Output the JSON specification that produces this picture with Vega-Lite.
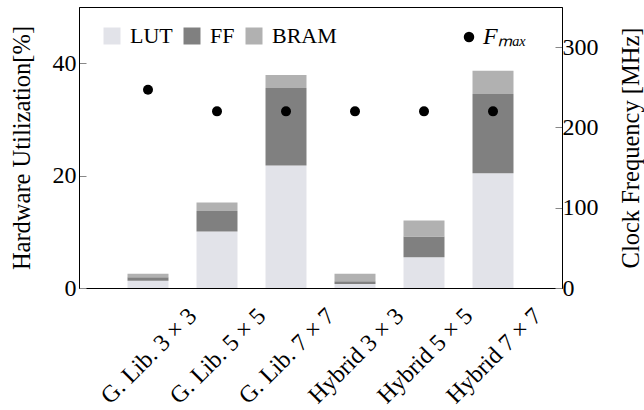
{
  "$schema": "https://vega.github.io/schema/vega-lite/v6.json",
  "width": 483,
  "height": 281,
  "autosize": "none",
  "padding": {"left": 79, "top": 7, "right": 82, "bottom": 122},
  "background": "white",
  "config": {
    "font": "Liberation Serif",
    "view": {"stroke": "#000", "strokeWidth": 1},
    "axis": {
      "labelFont": "Liberation Serif",
      "titleFont": "Liberation Serif",
      "labelFontSize": 24,
      "titleFontSize": 24.5,
      "titleFontWeight": "normal",
      "labelColor": "#000",
      "titleColor": "#000",
      "grid": false,
      "domainColor": "#000",
      "tickColor": "#888"
    },
    "legend": {
      "labelFont": "Liberation Serif",
      "labelFontSize": 22,
      "labelColor": "#000"
    }
  },
  "datasets": {
    "util": [
      {"config": "G. Lib. 3 × 3", "resource": "LUT", "k": 1, "value": 1.3},
      {"config": "G. Lib. 3 × 3", "resource": "FF", "k": 2, "value": 0.6},
      {"config": "G. Lib. 3 × 3", "resource": "BRAM", "k": 3, "value": 0.65},
      {"config": "G. Lib. 5 × 5", "resource": "LUT", "k": 1, "value": 10.05},
      {"config": "G. Lib. 5 × 5", "resource": "FF", "k": 2, "value": 3.65},
      {"config": "G. Lib. 5 × 5", "resource": "BRAM", "k": 3, "value": 1.5},
      {"config": "G. Lib. 7 × 7", "resource": "LUT", "k": 1, "value": 21.8},
      {"config": "G. Lib. 7 × 7", "resource": "FF", "k": 2, "value": 13.8},
      {"config": "G. Lib. 7 × 7", "resource": "BRAM", "k": 3, "value": 2.3},
      {"config": "Hybrid 3 × 3", "resource": "LUT", "k": 1, "value": 0.7},
      {"config": "Hybrid 3 × 3", "resource": "FF", "k": 2, "value": 0.5},
      {"config": "Hybrid 3 × 3", "resource": "BRAM", "k": 3, "value": 1.35},
      {"config": "Hybrid 5 × 5", "resource": "LUT", "k": 1, "value": 5.45},
      {"config": "Hybrid 5 × 5", "resource": "FF", "k": 2, "value": 3.7},
      {"config": "Hybrid 5 × 5", "resource": "BRAM", "k": 3, "value": 2.85},
      {"config": "Hybrid 7 × 7", "resource": "LUT", "k": 1, "value": 20.4},
      {"config": "Hybrid 7 × 7", "resource": "FF", "k": 2, "value": 14.1},
      {"config": "Hybrid 7 × 7", "resource": "BRAM", "k": 3, "value": 4.15}
    ],
    "freq": [
      {"config": "G. Lib. 3 × 3", "fmax": 247},
      {"config": "G. Lib. 5 × 5", "fmax": 220},
      {"config": "G. Lib. 7 × 7", "fmax": 220},
      {"config": "Hybrid 3 × 3", "fmax": 220},
      {"config": "Hybrid 5 × 5", "fmax": 220},
      {"config": "Hybrid 7 × 7", "fmax": 220}
    ]
  },
  "layer": [
    {
      "data": {"name": "util"},
      "mark": {"type": "bar"},
      "encoding": {
        "x": {
          "field": "config",
          "type": "nominal",
          "sort": null,
          "scale": {"paddingInner": 0.406, "paddingOuter": 0.703},
          "axis": {
            "title": null,
            "ticks": false,
            "labelAngle": -45,
            "labelAlign": "right",
            "labelBaseline": "alphabetic",
            "labelOffset": 50,
            "labelPadding": 29,
            "labelOverlap": false,
            "labelBound": false,
            "labelLimit": 400
          }
        },
        "y": {
          "field": "value",
          "type": "quantitative",
          "stack": "zero",
          "scale": {"domain": [0, 50], "nice": false},
          "axis": {
            "title": "Hardware Utilization[%]",
            "values": [0, 20, 40],
            "tickSize": -7,
            "labelPadding": 10,
            "titlePadding": 18
          }
        },
        "color": {
          "field": "resource",
          "type": "nominal",
          "scale": {"domain": ["LUT", "FF", "BRAM"], "range": ["#e2e3e9", "#808080", "#b1b1b1"]},
          "legend": {
            "title": null,
            "orient": "none",
            "direction": "horizontal",
            "legendX": 22,
            "legendY": 18,
            "symbolType": "square",
            "symbolSize": 289,
            "symbolStrokeWidth": 0,
            "labelOffset": 7,
            "columnPadding": 8
          }
        },
        "order": {"field": "k", "type": "quantitative"}
      }
    },
    {
      "data": {"name": "freq"},
      "mark": {"type": "point", "filled": true, "color": "#000", "size": 100, "opacity": 1},
      "encoding": {
        "x": {"field": "config", "type": "nominal", "sort": null},
        "y": {
          "field": "fmax",
          "type": "quantitative",
          "scale": {"domain": [0, 350], "nice": false},
          "axis": {
            "orient": "right",
            "title": "Clock Frequency [MHz]",
            "values": [0, 100, 200, 300],
            "tickSize": -7,
            "labelPadding": 7,
            "titleAngle": -90,
            "titleBaseline": "top",
            "titlePadding": 21
          }
        },
        "shape": {
          "datum": "Fₘₐₓ",
          "scale": {"range": ["circle"]},
          "legend": {
            "title": null,
            "orient": "none",
            "legendX": 378,
            "legendY": 18,
            "symbolFillColor": "#000",
            "symbolStrokeColor": "#000",
            "symbolSize": 110,
            "labelFontStyle": "italic",
            "labelFontSize": 24,
            "labelOffset": 2
          }
        }
      }
    }
  ],
  "resolve": {"scale": {"y": "independent", "color": "independent", "shape": "independent"}}
}
